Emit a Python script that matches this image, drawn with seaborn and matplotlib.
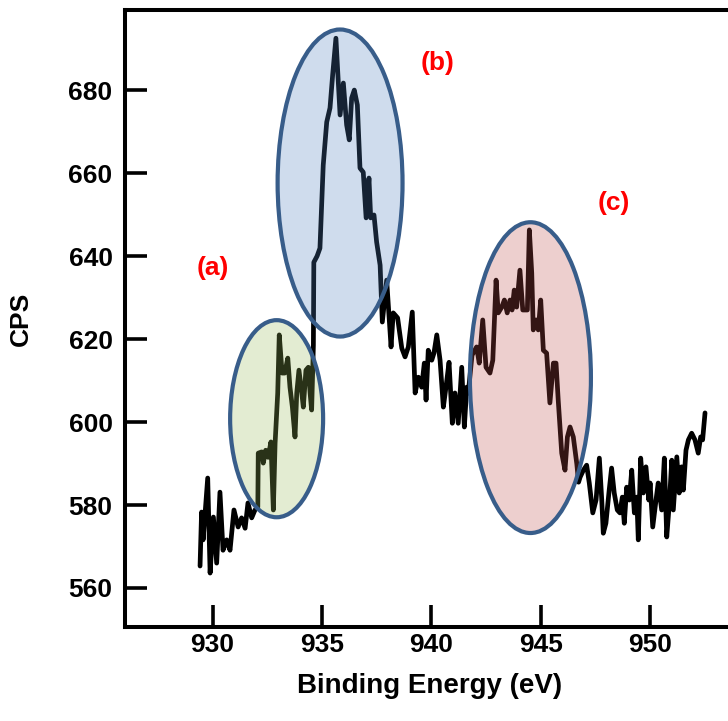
import matplotlib
matplotlib.use("Agg")
import matplotlib.pyplot as plt
from matplotlib.patches import Ellipse
import seaborn as sns
import pandas as pd

# Binding energy (eV) and counts per second
energy = [
    929.43, 929.50, 929.57, 929.78, 929.89, 930.04, 930.19, 930.34, 930.48, 930.65,
    930.80, 930.98, 931.17, 931.33, 931.49, 931.62, 931.79, 931.94, 932.07,
    932.09, 932.25, 932.32, 932.43, 932.54, 932.67, 932.78, 932.86, 932.98, 933.05,
    933.18, 933.30, 933.44, 933.54, 933.65, 933.77, 933.85, 933.95, 934.08, 934.15,
    934.27, 934.38, 934.46, 934.53, 934.61,
    934.63, 934.78, 934.91, 935.06, 935.22, 935.37, 935.49, 935.64, 935.83, 935.98,
    936.13, 936.25, 936.36, 936.48, 936.62, 936.74, 936.89, 937.02, 937.15, 937.23,
    937.38, 937.50, 937.66,
    937.76, 937.96, 938.16, 938.26, 938.46, 938.65, 938.80, 938.95, 939.13, 939.26,
    939.41, 939.56, 939.68, 939.76, 939.86, 940.02, 940.12, 940.25, 940.40, 940.55,
    940.67, 940.81, 940.96, 941.08, 941.23, 941.39, 941.51, 941.62, 941.69,
    941.86, 942.07, 942.19, 942.35, 942.50, 942.68, 942.81, 942.96, 943.06, 943.22,
    943.34, 943.47, 943.60, 943.69, 943.79, 943.90, 944.05, 944.18, 944.28, 944.39,
    944.48, 944.59, 944.66, 944.79, 944.89, 945.00, 945.12, 945.27, 945.42, 945.58,
    945.70, 945.80, 945.96, 946.11, 946.22, 946.34, 946.49, 946.65, 946.73,
    946.80, 946.95, 947.10, 947.22, 947.38, 947.53, 947.68, 947.79, 947.86, 947.98,
    948.13, 948.24, 948.36, 948.50, 948.62, 948.73, 948.82, 948.93, 949.05, 949.16,
    949.28, 949.39, 949.46, 949.57, 949.69, 949.81, 949.94, 950.00, 950.12, 950.27,
    950.37, 950.53, 950.65, 950.76, 950.88, 950.99, 951.06, 951.22, 951.33, 951.44,
    951.52, 951.64, 951.75, 951.90, 952.05, 952.20, 952.31, 952.40, 952.51,
]
cps = [
    565.3, 578.3, 571.6, 586.5, 563.6, 577.1, 566.0, 583.1, 569.1, 571.6,
    569.1, 578.8, 574.7, 576.9, 574.4, 580.5, 576.9, 578.8, 579.5,
    592.5, 592.8, 590.1, 593.2, 591.5, 595.2, 578.8, 594.9, 607.0, 621.0,
    611.8, 611.8, 615.4, 608.4, 603.6, 596.4, 607.0, 612.5, 607.0, 603.6,
    612.5, 613.2, 607.0, 602.9, 618.5,
    638.5, 640.0, 641.9, 661.9, 672.3, 675.7, 683.6, 692.5, 674.0, 681.7,
    671.6, 668.0, 678.1, 680.0, 676.4, 661.2, 660.2, 649.2, 658.8, 649.2,
    649.9, 643.4, 637.8,
    624.1, 634.2, 618.1, 626.3, 625.1, 617.8, 615.7, 618.1, 626.5, 607.0,
    610.8, 608.4, 614.2, 605.3, 617.3, 614.9, 616.6, 621.0, 614.9, 603.6,
    608.4, 614.4, 599.7, 607.0, 599.7, 613.2, 598.8, 608.4, 607.0,
    616.1, 618.1, 614.2, 624.6, 613.2, 611.8, 614.9, 634.2, 626.3, 627.7,
    629.4, 626.3, 629.4, 627.0, 631.8, 627.7, 636.6, 627.0, 627.0, 627.0,
    646.3, 635.9, 622.2, 624.6, 622.2, 629.4, 617.3, 616.6, 604.6, 614.2,
    614.2, 605.3, 592.5, 588.4, 596.4, 598.8, 596.4, 589.9, 585.5,
    586.7, 588.4, 589.6, 585.3, 578.1, 581.2, 591.3, 581.2, 573.2, 575.6,
    583.6, 588.9, 582.9, 578.8, 578.1, 581.9, 575.6, 584.3, 581.2, 588.4,
    578.1, 581.9, 571.6, 591.3, 582.9, 589.2, 581.2, 585.3, 574.7, 581.2,
    585.3, 578.8, 591.3, 572.3, 580.5, 590.8, 578.8, 591.6, 582.9, 589.2,
    583.6, 593.2, 595.7, 597.3, 595.7, 592.5, 596.4, 595.7, 602.2,
]

x_ticks = [930, 935, 940, 945, 950]
y_ticks = [560, 580, 600, 620, 640, 660, 680]

# Highlight regions: label, centre energy, centre CPS, width (eV), height (CPS), colour
region_labels = ["(a)", "(b)", "(c)"]
region_cx = [932.93, 935.83, 944.53]
region_cy = [600.8, 657.6, 610.7]
region_w = [4.25, 5.71, 5.53]
region_h = [47.5, 74.0, 74.9]
region_colors = ["#9BBB59", "#4F81BD", "#C0504D"]
label_x = [930.0, 940.3, 948.35]
label_y = [637.1, 686.5, 652.8]

sns.set_theme(style="ticks")
plt.rcParams["font.family"] = ["Liberation Sans", "DejaVu Sans"]

df = pd.DataFrame({"Binding Energy (eV)": energy, "CPS": cps})

fig = plt.figure(figsize=(7.28, 7.21), dpi=100)
ax = fig.add_axes([125 / 728, 1 - 627 / 721, 1 - 125 / 728, (627 - 10) / 721])

sns.lineplot(data=df, x="Binding Energy (eV)", y="CPS", ax=ax, sort=False,
             estimator=None, color="black", linewidth=3.4, zorder=2,
             solid_joinstyle="round")

for cx, cy, w, h, col in zip(region_cx, region_cy, region_w, region_h, region_colors):
    e = Ellipse((cx, cy), w, h, facecolor=matplotlib.colors.to_rgba(col, 0.27),
                edgecolor="#385D8A", linewidth=3.0, zorder=3)
    ax.add_patch(e)

for lab, lx, ly in zip(region_labels, label_x, label_y):
    ax.text(lx, ly, lab, color="#FF0000", fontsize=19, fontweight="bold",
            ha="center", va="center", zorder=4)

ax.set_xlim(926.0, 953.56)
ax.set_ylim(550.6, 699.3)
ax.set_xticks(x_ticks)
ax.set_yticks(y_ticks)
ax.tick_params(axis="both", direction="in", length=16, width=2.6,
               labelsize=19, colors="black")
ax.tick_params(axis="y", pad=9)
ax.tick_params(axis="x", pad=4)
for lab in ax.get_xticklabels() + ax.get_yticklabels():
    lab.set_fontweight("bold")

ax.spines["right"].set_visible(False)
for s in ["left", "bottom", "top"]:
    ax.spines[s].set_linewidth(2.9)
    ax.spines[s].set_color("black")

ax.set_xlabel("Binding Energy (eV)", fontsize=20, fontweight="bold", color="black")
ax.set_ylabel("CPS", fontsize=19, fontweight="bold", color="black")
ax.xaxis.set_label_coords(0.505, -0.075)
ax.yaxis.set_label_coords(-0.152, 0.5)

fig.savefig("out.png", dpi=100)
